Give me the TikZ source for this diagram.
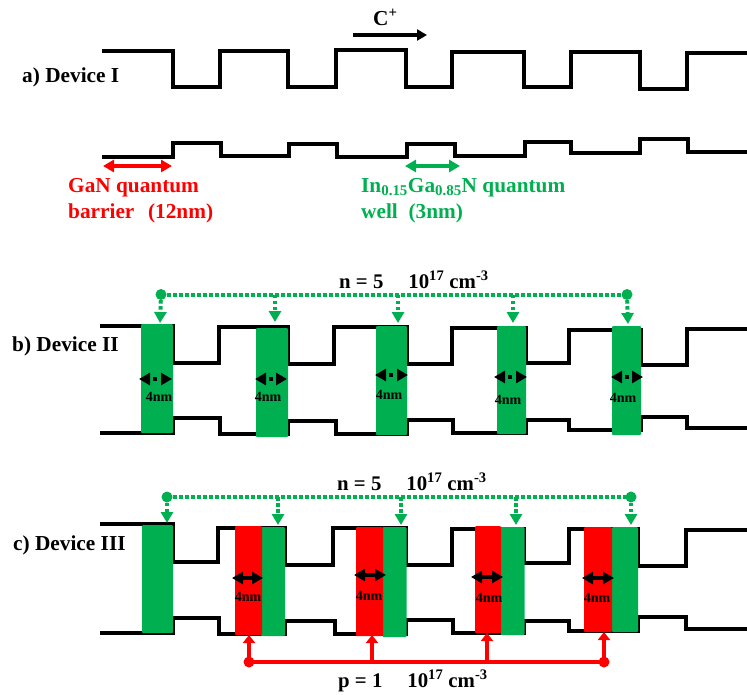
\documentclass[tikz,border=0pt]{standalone}
\usepackage{fontspec}
\setmainfont{Liberation Serif}
\usetikzlibrary{arrows.meta}
\definecolor{wellgreen}{HTML}{00B050}
\begin{document}
\begin{tikzpicture}[x=1pt, y=-1pt,
    wave/.style = {draw, line width=4.3pt, line join=miter},
    lab/.style = {font=\fontsize{21.3}{26}\selectfont\bfseries, inner sep=0pt, anchor=base west, align=left},
    dope/.style = {lab, font=\fontsize{20.8}{26}\selectfont\bfseries},
    thin4/.style = {font=\fontsize{14}{15}\selectfont\bfseries, inner sep=0pt},
    gbox/.style = {fill=wellgreen, rounded corners=1pt, inner sep=0pt},
    rbox/.style = {fill=red, rounded corners=1pt, inner sep=0pt},
    gdot/.style = {circle, fill=wellgreen, minimum size=11pt, inner sep=0pt},
    rdot/.style = {circle, fill=red, minimum size=11pt, inner sep=0pt},
    glink/.style = {wellgreen, line width=4pt, dash pattern=on 3.5pt off 2.5pt},
    gdrop/.style = {glink, -{Triangle[length=11pt,width=12pt]}},
    rlink/.style = {red, line width=4pt},
    rrise/.style = {rlink, -{Triangle[length=8pt,width=12pt]}},
    both/.style = {line width=3.5pt, {Triangle[length=11pt,width=12pt]}-{Triangle[length=11pt,width=12pt]}},
    bothdot/.style = {both, dash pattern=on 4pt off 4pt, dash phase=4pt}]
    \useasboundingbox (0,0) rectangle (747,694);

    \draw[wave] (102,51) -- (173,51) -- (173,87) -- (220,87) -- (220,51) -- (288,51) -- (288,87) -- (336,87) -- (336,50) -- (406,50) -- (406,87) -- (452,87) -- (452,52) -- (524,52) -- (524,87) -- (571,87) -- (571,52) -- (640,52) -- (640,89) -- (687,89) -- (687,53) -- (747,53);
    \draw[wave] (102,157) -- (173,157) -- (173,143) -- (221,143) -- (221,156) -- (289,156) -- (289,144) -- (337,144) -- (337,157) -- (407,157) -- (407,144) -- (455,144) -- (455,156) -- (525,156) -- (525,142) -- (571,142) -- (571,153) -- (640,153) -- (640,139) -- (688,139) -- (688,152) -- (747,152);

    \coordinate (cs) at (353,35);
    \coordinate (ce) at (427,35);
    \draw[line width=3.5pt, -{Triangle[length=10pt,width=11pt]}] (cs) -- (ce);
    \coordinate (bs) at (103,166);
    \coordinate (be) at (172,166);
    \draw[red, both] (bs) -- (be);
    \coordinate (ws) at (405,166);
    \coordinate (we) at (460,166);
    \draw[wellgreen, both] (ws) -- (we);

    \node[lab] (carrier) at (373,25) {C\textsuperscript{+}};
    \node[lab] (dev1) at (22,82) {a) Device I};
    \node[lab, red] (barrier) at (68,218) {GaN quantum\\barrier\ \ \hspace{3pt}(12nm)};
    \node[lab, wellgreen] (well) at (361,218) {In\textsubscript{0.15}Ga\textsubscript{0.85}N quantum\\well\ \ (3nm)};

    \draw[wave] (100,326) -- (172.5,326) -- (172.5,363) -- (219,363) -- (219,327) -- (288,327) -- (288,364) -- (334,364) -- (334,327) -- (407,327) -- (407,364) -- (452,364) -- (452,328) -- (526,328) -- (526,363) -- (569,363) -- (569,330) -- (641,330) -- (641,365) -- (687,365) -- (687,329) -- (747,329);
    \draw[wave] (100,433) -- (172.5,433) -- (172.5,418) -- (220,418) -- (220,434) -- (288,434) -- (288,421) -- (336,421) -- (336,434) -- (407,434) -- (407,420) -- (453,420) -- (453,433) -- (526,433) -- (526,420) -- (569,420) -- (569,430) -- (641,430) -- (641,417) -- (687,417) -- (687,428) -- (747,428);

    \node[gbox, minimum width=32pt, minimum height=109pt] (g1) at (157,378.5) {};
    \node[gbox, minimum width=32pt, minimum height=109pt] (g2) at (272,382.5) {};
    \node[gbox, minimum width=31pt, minimum height=109pt] (g3) at (391.5,380.5) {};
    \node[gbox, minimum width=29pt, minimum height=108pt] (g4) at (511.5,380) {};
    \node[gbox, minimum width=29pt, minimum height=109pt] (g5) at (626.5,380.5) {};

    \node[gdot] (n1) at (161,294.5) {};
    \node[gdot] (n5) at (627,294.5) {};
    \coordinate (n2) at (275,294.5);
    \coordinate (n3) at (398,294.5);
    \coordinate (n4) at (513,294.5);
    \coordinate (t1) at (160,323);
    \coordinate (t2) at (275,322);
    \coordinate (t3) at (398,323);
    \coordinate (t4) at (513,323);
    \coordinate (t5) at (628,324);
    \draw[glink] (n1.center) -- (n5.center);
    \draw[gdrop] (n1) -- (t1);
    \draw[gdrop] (n2) -- (t2);
    \draw[gdrop] (n3) -- (t3);
    \draw[gdrop] (n4) -- (t4);
    \draw[gdrop] (n5) -- (t5);

    \coordinate (a1) at (139,379);
    \coordinate (b1) at (172,379);
    \coordinate (a2) at (255,379);
    \coordinate (b2) at (287,379);
    \coordinate (a3) at (375,375);
    \coordinate (b3) at (408,375);
    \coordinate (a4) at (494,377);
    \coordinate (b4) at (527,377);
    \coordinate (a5) at (611,377);
    \coordinate (b5) at (643,377);
    \draw[bothdot] (a1) -- (b1);
    \draw[bothdot] (a2) -- (b2);
    \draw[bothdot] (a3) -- (b3);
    \draw[bothdot] (a4) -- (b4);
    \draw[bothdot] (a5) -- (b5);

    \node[thin4] (w1) at (159,397) {4nm};
    \node[thin4] (w2) at (268,397) {4nm};
    \node[thin4] (w3) at (389,395) {4nm};
    \node[thin4] (w4) at (508,400) {4nm};
    \node[thin4] (w5) at (623,398) {4nm};

    \node[lab] (dev2) at (12,351) {b) Device II};
    \node[dope] (dop2) at (339,288) {n = 5\hspace{25pt}10\textsuperscript{17} cm\textsuperscript{-3}};

    \draw[wave] (100,524) -- (172.5,524) -- (172.5,562) -- (218,562) -- (218,528) -- (285,528) -- (285,565) -- (333,565) -- (333,528) -- (406,528) -- (406,565) -- (452,565) -- (452,529) -- (524,529) -- (524,563) -- (569,563) -- (569,529) -- (638,529) -- (638,566) -- (686,566) -- (686,530) -- (747,530);
    \draw[wave] (100,633) -- (172.5,633) -- (172.5,618) -- (219,618) -- (219,634) -- (285,634) -- (285,621) -- (335,621) -- (335,634) -- (406,634) -- (406,620) -- (453,620) -- (453,633) -- (524,633) -- (524,621) -- (569,621) -- (569,631) -- (638,631) -- (638,617) -- (686,617) -- (686,629) -- (747,629);

    \node[gbox, minimum width=31pt, minimum height=108pt] (h1) at (157.5,579) {};
    \node[gbox, minimum width=24pt, minimum height=109pt] (h2) at (273,581.5) {};
    \node[rbox, minimum width=27pt, minimum height=109pt] (r2) at (248.5,580.5) {};
    \node[gbox, minimum width=24pt, minimum height=110pt] (h3) at (394.5,582) {};
    \node[rbox, minimum width=27pt, minimum height=109pt] (r3) at (369.5,581.5) {};
    \node[gbox, minimum width=24pt, minimum height=108pt] (h4) at (512.5,581) {};
    \node[rbox, minimum width=26pt, minimum height=107pt] (r4) at (488,579.5) {};
    \node[gbox, minimum width=26pt, minimum height=105pt] (h5) at (625,579.5) {};
    \node[rbox, minimum width=28pt, minimum height=105pt] (r5) at (598,579.5) {};

    \node[gdot] (m1) at (167,497) {};
    \node[gdot] (m5) at (631,497) {};
    \coordinate (m2) at (278,497);
    \coordinate (m3) at (401,497);
    \coordinate (m4) at (516,497);
    \coordinate (u1) at (167,523);
    \coordinate (u2) at (278,525);
    \coordinate (u3) at (401,525);
    \coordinate (u4) at (516,525);
    \coordinate (u5) at (631,525);
    \draw[glink] (m1.center) -- (m5.center);
    \draw[gdrop] (m1) -- (u1);
    \draw[gdrop] (m2) -- (u2);
    \draw[gdrop] (m3) -- (u3);
    \draw[gdrop] (m4) -- (u4);
    \draw[gdrop] (m5) -- (u5);

    \node[rdot] (p1) at (249,662) {};
    \node[rdot] (p4) at (604,662) {};
    \coordinate (p2) at (372,662);
    \coordinate (p3) at (487,662);
    \coordinate (v1) at (249,635);
    \coordinate (v2) at (372,635);
    \coordinate (v3) at (487,633);
    \coordinate (v4) at (604,632);
    \draw[rlink] (p1.center) -- (p4.center);
    \draw[rrise] (p1.center) -- (v1);
    \draw[rrise] (p2) -- (v2);
    \draw[rrise] (p3) -- (v3);
    \draw[rrise] (p4.center) -- (v4);

    \coordinate (c1) at (232,578);
    \coordinate (d1) at (263,578);
    \coordinate (c2) at (354,575);
    \coordinate (d2) at (386,575);
    \coordinate (c3) at (471,577);
    \coordinate (d3) at (503,577);
    \coordinate (c4) at (582,578);
    \coordinate (d4) at (614,578);
    \draw[both] (c1) -- (d1);
    \draw[both] (c2) -- (d2);
    \draw[both] (c3) -- (d3);
    \draw[both] (c4) -- (d4);

    \node[thin4] (x1) at (248,597) {4nm};
    \node[thin4] (x2) at (369,596) {4nm};
    \node[thin4] (x3) at (489,598) {4nm};
    \node[thin4] (x4) at (597,598) {4nm};

    \node[lab] (dev3) at (13,550) {c) Device III};
    \node[dope] (dop3) at (337,490) {n = 5\hspace{25pt}10\textsuperscript{17} cm\textsuperscript{-3}};
    \node[dope] (dop4) at (338,687) {p = 1\hspace{25pt}10\textsuperscript{17} cm\textsuperscript{-3}};
\end{tikzpicture}
\end{document}
